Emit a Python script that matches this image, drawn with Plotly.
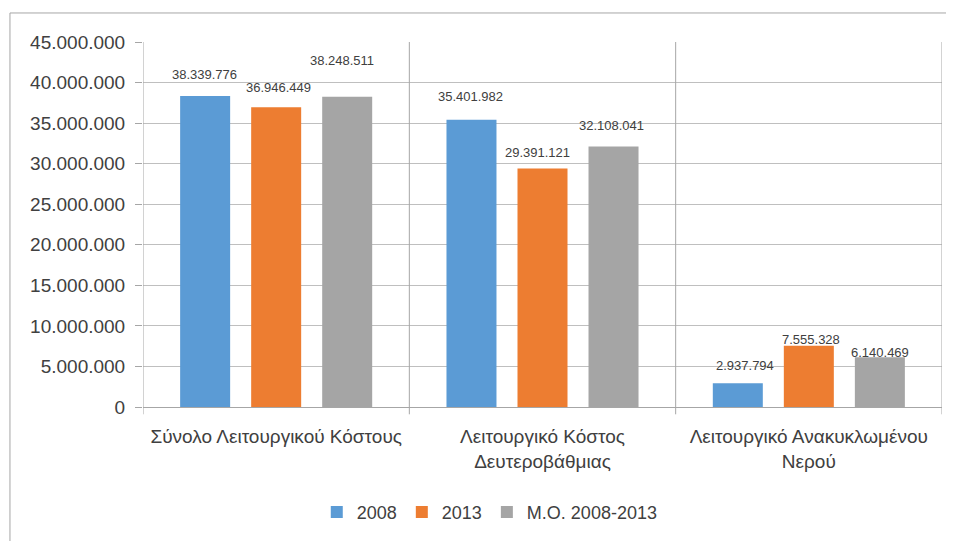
import plotly.graph_objects as go

categories = ["Σύνολο Λειτουργικού Κόστους",
              "Λειτουργικό Κόστος<br>Δευτεροβάθμιας",
              "Λειτουργικό Ανακυκλωμένου<br>Νερού"]
series_names = ["2008", "2013", "Μ.Ο. 2008-2013"]
values_2008 = [38339776, 35401982, 2937794]
values_2013 = [36946449, 29391121, 7555328]
values_avg = [38248511, 32108041, 6140469]
y_tickvals = [0, 5000000, 10000000, 15000000, 20000000, 25000000,
              30000000, 35000000, 40000000, 45000000]

colors = ["#5B9BD5", "#ED7D31", "#A5A5A5"]
all_values = [values_2008, values_2013, values_avg]

def fmt(v):
    return f"{v:,}".replace(",", ".")

FONT = "Liberation Sans, Arial, sans-serif"
TXT = "#404040"

fig = go.Figure()
for name, vals, col in zip(series_names, all_values, colors):
    fig.add_trace(go.Bar(name=name, x=categories, y=vals, marker_color=col,
                         marker_line_width=0))

# data label offsets (px) per series, per category, mimic staggered labels
xshifts = [[-1, -1, 7], [2, -5, 2], [-5, -2, 0]]
yshifts = [[22, 23, 18], [20, 16, 6], [36, 21, 5]]
for s, vals in enumerate(all_values):
    for c, v in enumerate(vals):
        fig.add_annotation(x=categories[c], y=v, text=fmt(v), showarrow=False,
                           xshift=(s - 1) * 71 + xshifts[s][c], yshift=yshifts[s][c],
                           font=dict(family=FONT, size=13, color=TXT),
                           yanchor="middle")

shapes = []
for xb in [-0.5, 0.5, 1.5, 2.5]:
    shapes.append(dict(type="line", xref="x", yref="paper", x0=xb, x1=xb, y0=-0.02, y1=1,
                       line=dict(color="#A6A6A6", width=1)))
shapes.append(dict(type="line", xref="paper", yref="paper", x0=-0.1665, x1=1.05,
                   y0=1.0795, y1=1.0795, line=dict(color="#A6A6A6", width=1)))
shapes.append(dict(type="line", xref="paper", yref="paper", x0=-0.1665, x1=-0.1665,
                   y0=1.0795, y1=-0.45, line=dict(color="#A6A6A6", width=1)))

fig.update_layout(
    width=954, height=541,
    margin=dict(l=135, r=20, t=34, b=142),
    paper_bgcolor="white", plot_bgcolor="white",
    barmode="group", bargap=0.2, bargroupgap=0.296,
    separators=",.",
    font=dict(family=FONT, color=TXT),
    shapes=shapes,
    legend=dict(orientation="h", xref="container", x=0.505, xanchor="center",
                yref="container", y=0.068, yanchor="middle",
                font=dict(family=FONT, size=18, color=TXT),
                itemwidth=30, traceorder="normal"),
    xaxis=dict(showgrid=False, showline=True, linecolor="#A6A6A6",
               tickfont=dict(family=FONT, size=19, color=TXT),
               ticks="", range=[-0.5, 2.5], ticklabelstandoff=12),
    yaxis=dict(range=[0, 45000000], tickvals=y_tickvals,
               ticktext=[fmt(v) for v in y_tickvals],
               showgrid=True, gridcolor="#BFBFBF", gridwidth=1,
               zeroline=False, showline=False, ticks="outside", ticklen=7,
               tickcolor="#A6A6A6", ticklabelstandoff=6,
               tickfont=dict(family=FONT, size=19, color=TXT)),
)

fig.write_html("out.html")
